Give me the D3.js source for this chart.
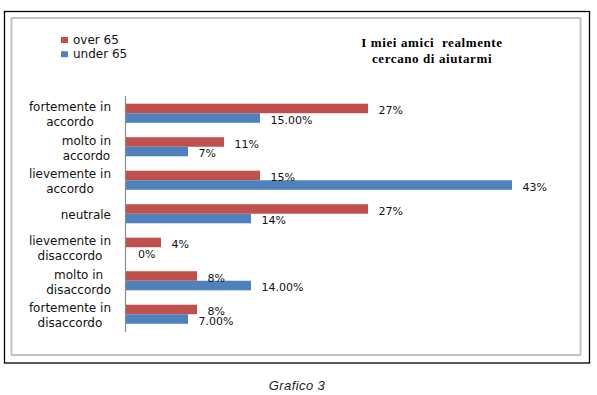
<!DOCTYPE html>
<html>
<head>
<meta charset="utf-8">
<script src="https://cdn.jsdelivr.net/npm/d3@7"></script>
<style>
  body { margin: 0; background: #fff; }
  svg { display: block; }
</style>
</head>
<body>
<div id="chart"></div>
<script>
// ---------- data ----------
const categories = [
  "fortemente in\naccordo",
  "molto in\naccordo",
  "lievemente in\naccordo",
  "neutrale",
  "lievemente in\ndisaccordo",
  "molto in\ndisaccordo",
  "fortemente in\ndisaccordo"
];
const seriesNames = ["over 65", "under 65"];
const over65 = [27, 11, 15, 27, 4, 8, 8];
const under65 = [15, 7, 43, 14, 0, 14, 7];
const over65Labels = ["27%", "11%", "15%", "27%", "4%", "8%", "8%"];
const under65Labels = ["15.00%", "7%", "43%", "14%", "0%", "14.00%", "7.00%"];
const titleLines = ["I miei amici  realmente", "cercano di aiutarmi"];
const caption = "Grafico 3";

// ---------- setup ----------
const width = 597, height = 395;
const colors = { "over 65": "#c0504d", "under 65": "#4f81bd" };

const svg = d3.select("#chart").append("svg")
  .attr("width", width)
  .attr("height", height);

svg.append("rect").attr("width", width).attr("height", height).attr("fill", "#fff");

// outer frame (black) and chart area (grey)
svg.append("rect")
  .attr("x", 4.5).attr("y", 11.5).attr("width", 585).attr("height", 351.5)
  .attr("fill", "none").attr("stroke", "#000").attr("stroke-width", 1.3);
svg.append("rect")
  .attr("x", 11.5).attr("y", 18).attr("width", 569).attr("height", 337)
  .attr("fill", "none").attr("stroke", "#bdbdbd").attr("stroke-width", 1.8);

// scales
const x = d3.scaleLinear().domain([0, 50]).range([125, 575]);
const y = d3.scaleBand().domain(categories).range([96.5, 331])
  .paddingInner(0.43).paddingOuter(0.215);
const ySub = d3.scaleBand().domain(seriesNames).range([0, y.bandwidth()]);

const rows = categories.map((c, i) => ({
  cat: c,
  values: [
    { key: "over 65", v: over65[i], label: over65Labels[i] },
    { key: "under 65", v: under65[i], label: under65Labels[i] }
  ]
}));

// bars
const groups = svg.append("g").selectAll("g")
  .data(rows).join("g")
  .attr("transform", d => `translate(0,${y(d.cat)})`);

groups.selectAll("rect")
  .data(d => d.values).join("rect")
  .attr("x", x(0))
  .attr("y", d => ySub(d.key))
  .attr("width", d => x(d.v) - x(0))
  .attr("height", ySub.bandwidth())
  .attr("fill", d => colors[d.key]);

groups.selectAll("text")
  .data(d => d.values).join("text")
  .attr("x", d => x(d.v) + (d.v === 0 ? 13 : 10.5))
  .attr("y", d => ySub(d.key) + ySub.bandwidth() / 2 + 5.6)
  .attr("font-family", "DejaVu Sans")
  .attr("font-size", 11)
  .attr("fill", "#111")
  .text(d => d.label);

// vertical axis (no ticks), category labels
const yAxis = d3.axisLeft(y).tickSize(0).tickFormat("");
const axisG = svg.append("g").attr("transform", "translate(125.5,0)").call(yAxis);
axisG.select(".domain").attr("stroke", "#8a8a8a").attr("stroke-width", 1.2)
  .attr("d", "M0,96V332");

// multi-line labels: lines centred on each other, block right-aligned
const labelRight = 111;
const catLabels = svg.append("g").selectAll("text")
  .data(categories).join("text")
  .attr("text-anchor", "middle")
  .attr("font-family", "DejaVu Sans")
  .attr("font-size", 12)
  .attr("fill", "#111");
catLabels.each(function (d) {
  const lines = d.split("\n");
  const cy = y(d) + y.bandwidth() / 2;
  const first = cy + 5.4 - (lines.length - 1) * 7.5;
  const tspans = d3.select(this).selectAll("tspan")
    .data(lines).join("tspan")
    .attr("y", (l, i) => first + i * 15)
    .text(l => l);
  let maxW = 0;
  tspans.each(function () { maxW = Math.max(maxW, this.getComputedTextLength()); });
  tspans.attr("x", labelRight - maxW / 2);
});

// legend
const legend = svg.append("g").selectAll("g")
  .data(seriesNames).join("g")
  .attr("transform", (d, i) => `translate(61,${37 + i * 14.2})`);
legend.append("rect").attr("width", 7).attr("height", 6).attr("fill", d => colors[d]);
legend.append("text")
  .attr("x", 12).attr("y", 6.5)
  .attr("font-family", "DejaVu Sans").attr("font-size", 12).attr("fill", "#111")
  .text(d => d);

// title
svg.append("g").selectAll("text")
  .data(titleLines).join("text")
  .attr("x", 432)
  .attr("y", (d, i) => 46.7 + i * 16.6)
  .attr("text-anchor", "middle")
  .attr("font-family", "Liberation Serif")
  .attr("font-weight", "bold")
  .attr("font-size", 13)
  .attr("letter-spacing", 0.6)
  .style("white-space", "pre")
  .text(d => d);

// caption
svg.append("text")
  .attr("x", 297).attr("y", 389.5)
  .attr("text-anchor", "middle")
  .attr("font-family", "Liberation Sans")
  .attr("font-style", "italic")
  .attr("font-size", 13)
  .attr("letter-spacing", 0.4)
  .attr("fill", "#222")
  .text(caption);
</script>
</body>
</html>
